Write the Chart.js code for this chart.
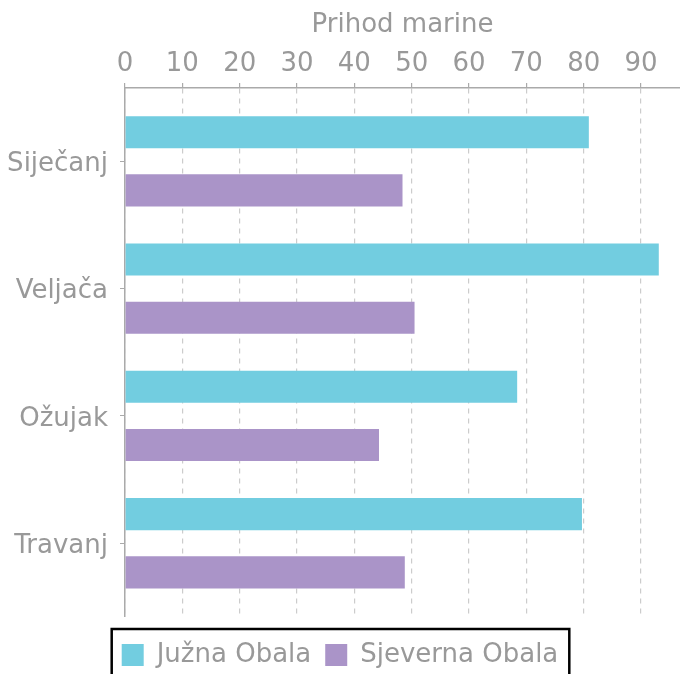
<!DOCTYPE html>
<html>
<head>
<meta charset="utf-8">
<script src="https://cdn.jsdelivr.net/npm/chart.js@4/dist/chart.umd.min.js"></script>
<style>
    html, body { margin: 0; padding: 0; background: #fff; }
    #wrap { width: 680px; height: 674px; }
</style>
</head>
<body>
<div id="wrap"><canvas id="chart" width="680" height="674"></canvas></div>
<script>
// Data
const months = ['Siječanj', 'Veljača', 'Ožujak', 'Travanj'];
const seriesNames = ['Južna Obala', 'Sjeverna Obala'];
const juznaObala = [80.9, 93.1, 68.4, 79.7];
const sjevernaObala = [48.4, 50.5, 44.3, 48.8];
const xTicks = [0, 10, 20, 30, 40, 50, 60, 70, 80, 90];

const textColor = '#999999';
const font = { family: 'DejaVu Sans', size: 26 };

// Border round the legend (cut by the bottom edge, like the original)
const legendBorder = {
    id: 'legendBorder',
    afterDraw(chart) {
        const boxes = chart.legend && chart.legend.legendHitBoxes;
        if (!boxes || !boxes.length) return;
        const first = boxes[0];
        const last = boxes[boxes.length - 1];
        const left = first.left - 10;
        const right = last.left + last.width + 11;
        const ctx = chart.ctx;
        ctx.save();
        ctx.strokeStyle = '#000';
        ctx.lineWidth = 2.5;
        ctx.strokeRect(left, first.top - 13, right - left, 80);
        ctx.restore();
    }
};

const ctx = document.getElementById('chart').getContext('2d');

new Chart(ctx, {
    type: 'bar',
    data: {
        datasets: [{
            label: seriesNames[0],
            data: juznaObala.map((v, i) => ({ x: v, y: i })),
            backgroundColor: '#72cde0'
        }, {
            label: seriesNames[1],
            data: sjevernaObala.map((v, i) => ({ x: v, y: i })),
            backgroundColor: '#aa94c8'
        }]
    },
    options: {
        indexAxis: 'y',
        responsive: false,
        animation: false,
        categoryPercentage: 0.915,
        barPercentage: 0.552,
        layout: { padding: { left: 0, right: 0, top: 0, bottom: -4 } },
        plugins: {
            tooltip: { enabled: false },
            legend: {
                position: 'bottom',
                // empty title only pushes the items down a little
                title: { display: true, text: '', font: { size: 1, lineHeight: 1 }, padding: { top: 11, bottom: 0 } },
                labels: {
                    color: textColor,
                    font: font,
                    boxWidth: 22,
                    boxHeight: 22,
                    padding: 14
                }
            }
        },
        scales: {
            x: {
                position: 'top',
                min: 0,
                max: 96.8,
                afterBuildTicks(scale) {
                    scale.ticks = xTicks.map(v => ({ value: v }));
                },
                afterFit(scale) {
                    scale.height = 88;
                },
                ticks: {
                    color: textColor,
                    font: font,
                    padding: 3,
                    includeBounds: false
                },
                title: {
                    display: true,
                    text: 'Prihod marine',
                    color: textColor,
                    font: font,
                    padding: { top: 10, bottom: 0 }
                },
                grid: {
                    color: '#cccccc',
                    lineWidth: 1.2,
                    tickLength: 5,
                    tickColor: '#aaaaaa'
                },
                border: {
                    display: true,
                    color: '#aaaaaa',
                    width: 1.5,
                    dash: [5, 5]
                }
            },
            y: {
                type: 'linear',
                reverse: true,
                offset: false,
                min: -0.576,
                max: 3.572,
                afterBuildTicks(scale) {
                    scale.ticks = months.map((m, i) => ({ value: i }));
                },
                afterFit(scale) {
                    scale.width = 125;
                },
                ticks: {
                    color: textColor,
                    font: font,
                    padding: 12,
                    labelOffset: 3,
                    includeBounds: false,
                    callback: (v) => months[v]
                },
                grid: {
                    offset: false,
                    drawOnChartArea: false,
                    tickLength: 5,
                    tickColor: '#aaaaaa'
                },
                border: {
                    display: true,
                    color: '#aaaaaa',
                    width: 1.5
                }
            }
        }
    },
    plugins: [legendBorder]
});
</script>
</body>
</html>
